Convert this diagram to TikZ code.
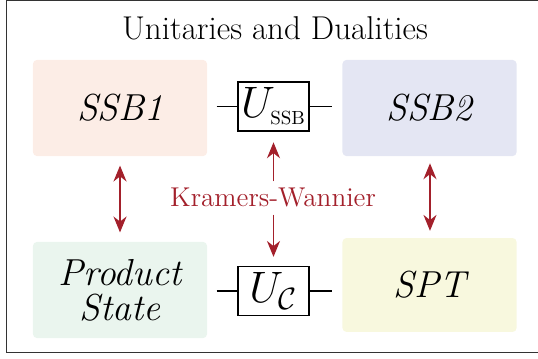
\RequirePackage{fix-cm}
\documentclass[tikz,border=0pt]{standalone}
\usepackage{amsmath}
\usepackage{fontspec}
\usetikzlibrary{arrows.meta}

\definecolor{ssbone}{HTML}{FCEDE6}
\definecolor{ssbtwo}{HTML}{E4E6F3}
\definecolor{prodcol}{HTML}{EAF5EE}
\definecolor{sptcol}{HTML}{F8F8DE}
\definecolor{kwred}{HTML}{A3202B}

\tikzset{
  phase/.style={rounded corners=2pt, minimum width=3.06cm, minimum height=1.69cm,
    font=\fontsize{18.8}{17.5}\selectfont\itshape, align=center, inner sep=0pt},
  gate/.style={draw, line width=0.6pt, minimum width=1.25cm, minimum height=0.86cm, inner sep=0pt},
  dual/.style={kwred, line width=0.6pt, >={Stealth[length=2.8mm, width=2.3mm]}}
}

\begin{document}
\begin{tikzpicture}
  \useasboundingbox (0,0) rectangle (9.454,6.291);
  % frame and title
  \draw[line width=0.5pt, black!80] (9.454,6.274) -- (0.123,6.274) -- (0.123,0.105) -- (9.454,0.105);
  \node (title) at (4.833,5.799) {\fontsize{16.5}{18}\selectfont Unitaries and Dualities};

  % phases
  \node[phase, fill=ssbone] (ssb1) at (2.109,4.393) {SSB1};
  \node[phase, fill=ssbtwo] (ssb2) at (7.548,4.393) {SSB2};
  \node[phase, fill=prodcol] (prod) at (2.109,1.195) {Product\\ State};
  \node[phase, fill=sptcol, minimum height=1.65cm] (spt) at (7.548,1.283) {SPT};

  % unitaries
  \node[gate] (ussb) at (4.806,4.420)
    {\fontsize{22}{22}\selectfont $U_{\text{\fontsize{9.5}{11}\selectfont SSB}}$};
  \node[gate] (uc) at (4.806,1.177) {\fontsize{22}{22}\selectfont $U_{\mathcal{C}}$};
  \draw[line width=0.6pt, shorten <=0.16cm] (ssb1.east |- ussb) -- (ussb.west);
  \draw[line width=0.6pt, shorten >=0.17cm] (ussb.east) -- (ssb2.west |- ussb);
  \draw[line width=0.6pt, shorten <=0.16cm] (prod.east |- uc) -- (uc.west);
  \draw[line width=0.6pt, shorten >=0.17cm] (uc.east) -- (spt.west |- uc);

  % dualities
  \node[kwred, font=\fontsize{13.6}{16}\selectfont] (kw) at (4.797,2.812) {Kramers-Wannier};
  \draw[dual, ->, shorten >=0.19cm] (kw.north -| ussb) -- (ussb.south);
  \draw[dual, ->, shorten >=0.16cm] (kw.south -| uc) -- (uc.north);
  \draw[dual, <->, shorten <=0.16cm, shorten >=0.16cm] (ssb1.south) -- (prod.north);
  \draw[dual, <->, shorten <=0.12cm, shorten >=0.12cm] (ssb2.south -| 7.556,0) -- (spt.north -| 7.556,0);
\end{tikzpicture}
\end{document}
